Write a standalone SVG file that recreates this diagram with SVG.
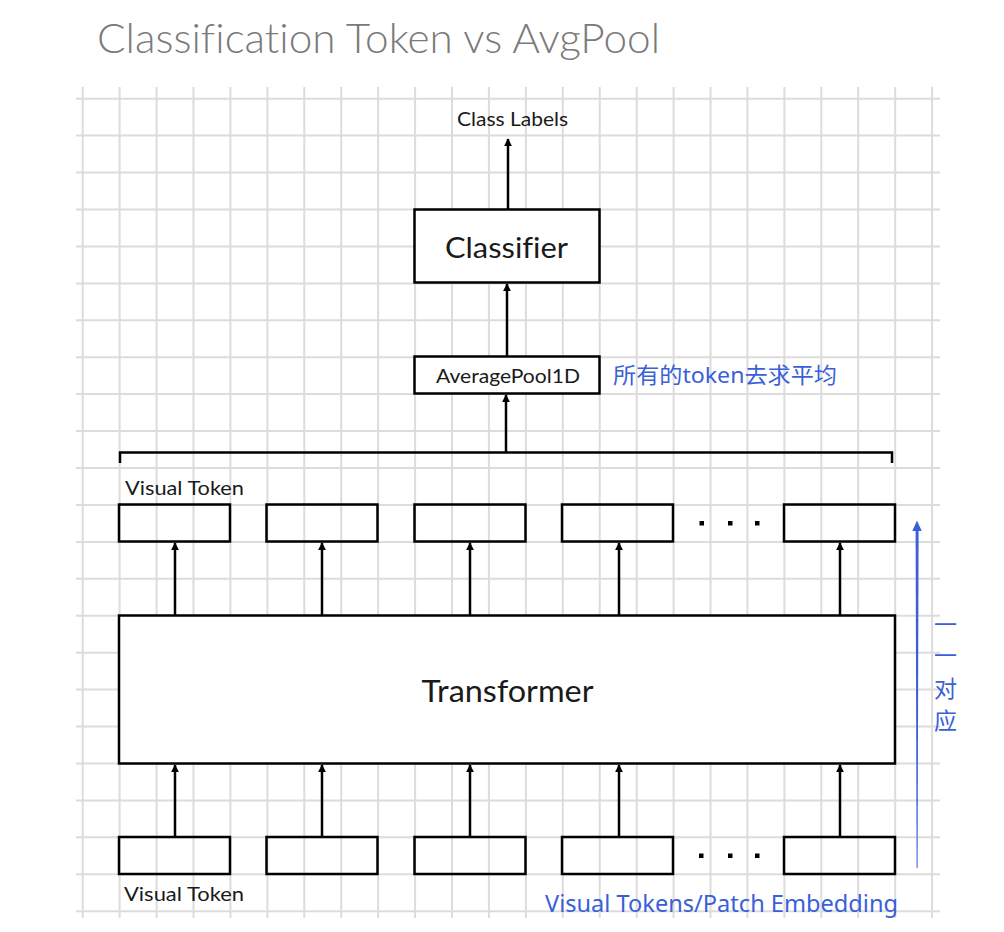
<svg xmlns="http://www.w3.org/2000/svg" width="1004" height="932" viewBox="0 0 1004 932">
<defs>
<marker id="ah" viewBox="0 0 10 10" refX="9" refY="5" markerWidth="3.2" markerHeight="3.2" orient="auto" markerUnits="strokeWidth">
<path d="M0,0 L10,5 L0,10 z" fill="#000"/>
</marker>
</defs>
<style>
text{font-variant-ligatures:none;font-feature-settings:"liga" 0}
.box{fill:#fff;stroke:#000;stroke-width:2.5}
.tok{fill:none;stroke:#000;stroke-width:2.5}
.lbl{font-family:Lato,"Liberation Sans",sans-serif;fill:#1a1a1a}
.blue{font-family:"Noto Sans","Noto Sans CJK SC",sans-serif;fill:#3a5fd8}
.arr{stroke:#000;stroke-width:2.5;fill:none;marker-end:url(#ah)}
.dot{fill:#000}
.gl{stroke:#dcdcdc;stroke-width:2}
</style>
<rect width="1004" height="932" fill="#fff"/>
<g id="grid-bg">
<g class="gl">
<line x1="82.7" y1="87" x2="82.7" y2="918"/>
<line x1="119.6" y1="87" x2="119.6" y2="918"/>
<line x1="156.6" y1="87" x2="156.6" y2="918"/>
<line x1="193.5" y1="87" x2="193.5" y2="918"/>
<line x1="230.4" y1="87" x2="230.4" y2="918"/>
<line x1="267.4" y1="87" x2="267.4" y2="918"/>
<line x1="304.3" y1="87" x2="304.3" y2="918"/>
<line x1="341.2" y1="87" x2="341.2" y2="918"/>
<line x1="378.1" y1="87" x2="378.1" y2="918"/>
<line x1="415.1" y1="87" x2="415.1" y2="918"/>
<line x1="452.0" y1="87" x2="452.0" y2="918"/>
<line x1="488.9" y1="87" x2="488.9" y2="918"/>
<line x1="525.9" y1="87" x2="525.9" y2="918"/>
<line x1="562.8" y1="87" x2="562.8" y2="918"/>
<line x1="599.7" y1="87" x2="599.7" y2="918"/>
<line x1="636.7" y1="87" x2="636.7" y2="918"/>
<line x1="673.6" y1="87" x2="673.6" y2="918"/>
<line x1="710.5" y1="87" x2="710.5" y2="918"/>
<line x1="747.4" y1="87" x2="747.4" y2="918"/>
<line x1="784.4" y1="87" x2="784.4" y2="918"/>
<line x1="821.3" y1="87" x2="821.3" y2="918"/>
<line x1="858.2" y1="87" x2="858.2" y2="918"/>
<line x1="895.2" y1="87" x2="895.2" y2="918"/>
<line x1="932.1" y1="87" x2="932.1" y2="918"/>
</g>
<g class="gl">
<line x1="76" y1="98.7" x2="940" y2="98.7"/>
<line x1="76" y1="135.6" x2="940" y2="135.6"/>
<line x1="76" y1="172.6" x2="940" y2="172.6"/>
<line x1="76" y1="209.5" x2="940" y2="209.5"/>
<line x1="76" y1="246.4" x2="940" y2="246.4"/>
<line x1="76" y1="283.4" x2="940" y2="283.4"/>
<line x1="76" y1="320.3" x2="940" y2="320.3"/>
<line x1="76" y1="357.2" x2="940" y2="357.2"/>
<line x1="76" y1="394.1" x2="940" y2="394.1"/>
<line x1="76" y1="431.1" x2="940" y2="431.1"/>
<line x1="76" y1="468.0" x2="940" y2="468.0"/>
<line x1="76" y1="504.9" x2="940" y2="504.9"/>
<line x1="76" y1="541.9" x2="940" y2="541.9"/>
<line x1="76" y1="578.8" x2="940" y2="578.8"/>
<line x1="76" y1="615.7" x2="940" y2="615.7"/>
<line x1="76" y1="652.7" x2="940" y2="652.7"/>
<line x1="76" y1="689.6" x2="940" y2="689.6"/>
<line x1="76" y1="726.5" x2="940" y2="726.5"/>
<line x1="76" y1="763.4" x2="940" y2="763.4"/>
<line x1="76" y1="800.4" x2="940" y2="800.4"/>
<line x1="76" y1="837.3" x2="940" y2="837.3"/>
<line x1="76" y1="874.2" x2="940" y2="874.2"/>
<line x1="76" y1="911.2" x2="940" y2="911.2"/>
</g>
</g>
<text id="title" x="97" y="53" font-family="Lato,'Open Sans',sans-serif" font-weight="300" font-size="41" fill="#7a7a7a" textLength="563" lengthAdjust="spacingAndGlyphs">Classification Token vs AvgPool</text>
<g id="class-labels"><text class="lbl" x="457" y="126" font-size="19" textLength="111" lengthAdjust="spacingAndGlyphs">Class Labels</text></g>
<g id="classifier">
<rect class="box" x="414.5" y="209.5" width="185" height="73"/>
<text class="lbl" x="445" y="257.5" font-size="29" textLength="123" lengthAdjust="spacingAndGlyphs">Classifier</text>
</g>
<g id="avgpool">
<rect class="box" x="414.5" y="356.5" width="185" height="37"/>
<text class="lbl" x="436" y="382.5" font-size="19" textLength="144" lengthAdjust="spacingAndGlyphs">AveragePool1D</text>
</g>
<g id="avg-note"><text class="blue" x="613" y="383" font-size="22" textLength="224" lengthAdjust="spacingAndGlyphs">所有的token去求平均</text></g>
<g id="top-tokens">
<text class="lbl" x="125" y="495" font-size="19" textLength="119" lengthAdjust="spacingAndGlyphs">Visual Token</text>
<rect class="tok" x="119" y="504.5" width="111" height="37"/>
<rect class="tok" x="266.5" y="504.5" width="111" height="37"/>
<rect class="tok" x="414.5" y="504.5" width="111" height="37"/>
<rect class="tok" x="562" y="504.5" width="111" height="37"/>
<rect class="tok" x="784" y="504.5" width="111" height="37"/>
<rect class="dot" x="699.5" y="521" width="4.5" height="4.5"/>
<rect class="dot" x="728" y="521" width="4.5" height="4.5"/>
<rect class="dot" x="755" y="521" width="4.5" height="4.5"/>
</g>
<g id="transformer">
<rect class="box" x="119" y="615.5" width="776" height="148"/>
<text class="lbl" x="421.5" y="701.5" font-size="30" textLength="172" lengthAdjust="spacingAndGlyphs">Transformer</text>
</g>
<g id="bottom-tokens">
<rect class="tok" x="119" y="837" width="111" height="37"/>
<rect class="tok" x="266.5" y="837" width="111" height="37"/>
<rect class="tok" x="414.5" y="837" width="111" height="37"/>
<rect class="tok" x="562" y="837" width="111" height="37"/>
<rect class="tok" x="784" y="837" width="111" height="37"/>
<rect class="dot" x="699" y="853.5" width="4.5" height="4.5"/>
<rect class="dot" x="728" y="853.5" width="4.5" height="4.5"/>
<rect class="dot" x="755" y="853.5" width="4.5" height="4.5"/>
<text class="lbl" x="124" y="901" font-size="19" textLength="120" lengthAdjust="spacingAndGlyphs">Visual Token</text>
</g>
<g id="embed-note"><text class="blue" x="545" y="912" font-size="24" textLength="353" lengthAdjust="spacingAndGlyphs">Visual Tokens/Patch Embedding</text></g>
<g id="one-to-one">
<text class="blue" x="934" y="633" font-size="23">一</text>
<text class="blue" x="934" y="664" font-size="23">一</text>
<text class="blue" x="934" y="697" font-size="23">对</text>
<text class="blue" x="934" y="729" font-size="23">应</text>
</g>
<g id="connectors">
<line class="arr" x1="508" y1="209" x2="508" y2="139"/>
<line class="arr" x1="507" y1="356" x2="507" y2="284"/>
<line class="arr" x1="506" y1="452.5" x2="506" y2="395"/>
<path d="M120,463 V452.5 H892 V463" fill="none" stroke="#000" stroke-width="2.5"/>
<line class="arr" x1="175" y1="615" x2="175" y2="543"/>
<line class="arr" x1="322" y1="615" x2="322" y2="543"/>
<line class="arr" x1="470" y1="615" x2="470" y2="543"/>
<line class="arr" x1="619" y1="615" x2="619" y2="543"/>
<line class="arr" x1="840" y1="615" x2="840" y2="543"/>
<line class="arr" x1="175" y1="837" x2="175" y2="765"/>
<line class="arr" x1="322" y1="837" x2="322" y2="765"/>
<line class="arr" x1="470" y1="837" x2="470" y2="765"/>
<line class="arr" x1="619" y1="837" x2="619" y2="765"/>
<line class="arr" x1="840" y1="837" x2="840" y2="765"/>
<path d="M915.6,530 L918.6,530 L917.6,868 L916.6,868 Z" fill="#3a5fd8"/>
<path d="M912.3,531 L917,520.5 L921.7,531 Z" fill="#3a5fd8"/>
</g>
</svg>
